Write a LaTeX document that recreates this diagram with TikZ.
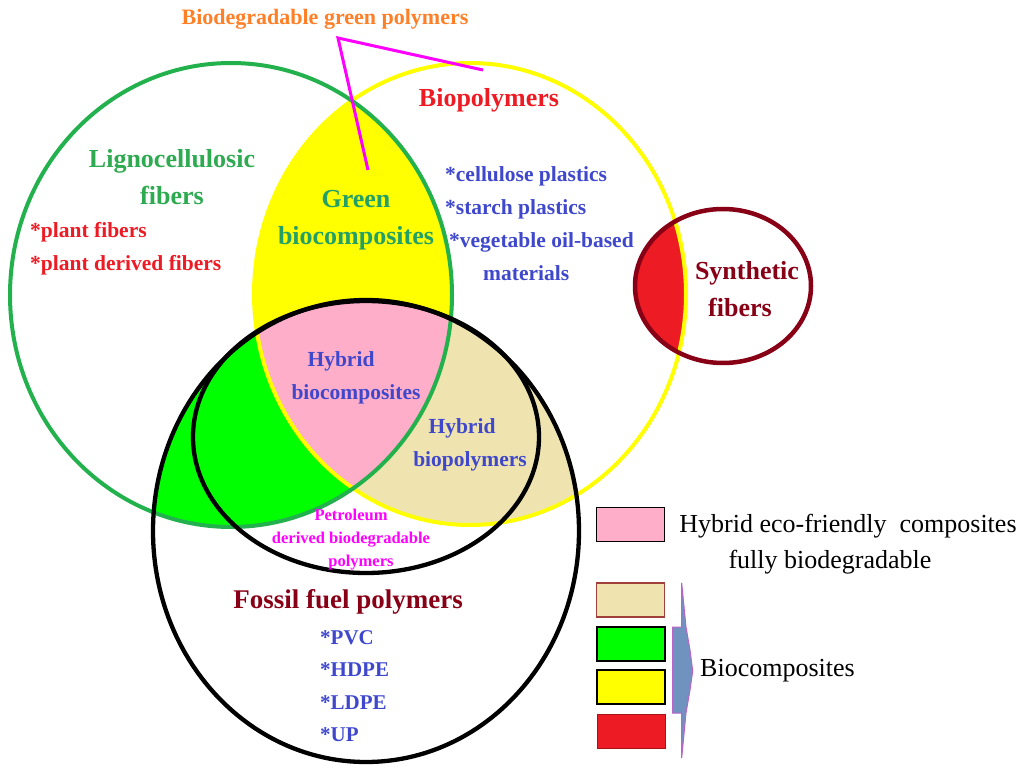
\documentclass[tikz,border=0pt]{standalone}
\usepackage{fontspec}
\setmainfont{Liberation Serif}
\definecolor{gline}{HTML}{22B14C}
\definecolor{gtext}{HTML}{2EAA50}
\definecolor{gbtext}{HTML}{22A066}
\definecolor{ylw}{HTML}{FFFF00}
\definecolor{rtext}{HTML}{ED1C24}
\definecolor{btext}{HTML}{3F48CC}
\definecolor{dred}{HTML}{880015}
\definecolor{orng}{HTML}{FF7F27}
\definecolor{mgnt}{HTML}{FF00FF}
\definecolor{pinkf}{HTML}{FFAEC9}
\definecolor{tanf}{HTML}{EFE4B0}
\definecolor{limef}{HTML}{00FF00}
\definecolor{redf}{HTML}{ED1C24}
\definecolor{arrf}{HTML}{7092BE}
\definecolor{arrd}{HTML}{B864C8}
\definecolor{tanb}{HTML}{A0403A}
\begin{document}
\begin{tikzpicture}[x=1pt,y=-1pt,
  big/.style={font=\bfseries\fontsize{26}{37}\selectfont, inner sep=0pt, align=center},
  mid/.style={font=\bfseries\fontsize{21.5}{33}\selectfont, inner sep=0pt},
  small/.style={font=\bfseries\fontsize{16.5}{23}\selectfont, inner sep=0pt, align=center},
  legtxt/.style={font=\fontsize{26}{36}\selectfont, inner sep=0pt},
  legbox/.style={draw=black, line width=1.5pt, minimum width=68pt, minimum height=34pt, inner sep=0pt},
  ring/.style={line width=4pt}]
\useasboundingbox (0,0) rectangle (1026,767);
\def\G{(231,295) ellipse [x radius=221pt, y radius=232pt]}
\def\Y{(470,294) ellipse [x radius=216pt, y radius=231pt]}
\def\B{(366,531) ellipse [x radius=213pt, y radius=231pt]}
\def\S{(366,437) ellipse [x radius=173pt, y radius=136pt]}
\def\F{(723,286) ellipse [x radius=88pt, y radius=77pt]}
% fills
\begin{scope}\clip \G; \fill[limef] \B;\end{scope}
\begin{scope}\clip \Y; \fill[tanf] \B;\end{scope}
\begin{scope}\clip \G; \clip \Y; \fill[ylw] \G; \clip \B; \fill[pinkf] \G;\end{scope}
\begin{scope}\clip \F; \fill[redf] \Y;\end{scope}
% outlines
\draw[ring, ylw] \Y;
\draw[ring, gline] \G;
\draw[line width=4.5pt, dred] \F;
\draw[line width=4.3pt, black] \B;
\draw[line width=4.3pt, black] \S;
% pointer lines
\coordinate (pv) at (338,38);
\coordinate (pa) at (483,70);
\coordinate (pb) at (368,170);
\draw[mgnt, line width=3pt] (pa) -- (pv) -- (pb);
% texts
\node[big, font=\bfseries\fontsize{22}{26}\selectfont, text=orng] (tbgp) at (325,19) {Biodegradable green polymers};
\node[big, text=rtext] (tbio) at (489,100) {Biopolymers};
\node[big, text=gtext] (tlig) at (172,177) {Lignocellulosic\\fibers};
\node[mid, text=rtext, align=left, anchor=west] (tpf) at (30,249) {*plant fibers\\*plant derived fibers};
\node[big, text=gbtext] (tgb) at (356,220) {Green\\biocomposites};
\node[mid, text=btext, align=left, anchor=west] (tbl) at (445,224) {*cellulose plastics\\*starch plastics\\\hspace*{4pt}*vegetable oil-based\\\hspace*{38pt}materials};
\node[big, text=dred] (tsyn) at (740,289) {\hspace*{14pt}Synthetic\\fibers};
\node[mid, text=btext, align=center] (thbc) at (341,378) {Hybrid\\\hspace*{30pt}biocomposites};
\node[mid, text=btext, align=center] (thbp) at (462,445) {Hybrid\\\hspace*{16pt}biopolymers};
\node[small, text=mgnt] (tpet) at (351,540) {Petroleum\\derived biodegradable\\\hspace*{20pt}polymers};
\node[big, font=\bfseries\fontsize{27}{32}\selectfont, text=dred] (tfos) at (348,602) {Fossil fuel polymers};
\node[mid, text=btext, align=left, anchor=west, font=\bfseries\fontsize{21}{32.3}\selectfont] (tfl) at (320,686) {*PVC\\*HDPE\\*LDPE\\*UP};
% legend
\node[legbox, fill=pinkf] (lpink) at (630.5,524.5) {};
\node[legbox, fill=tanf, draw=tanb] (ltan) at (630.5,600) {};
\node[legbox, fill=limef] (lgreen) at (631,644) {};
\node[legbox, fill=ylw] (lyel) at (631,687) {};
\node[legbox, fill=redf, draw=redf!70!black, line width=1pt] (lred) at (631,731.5) {};
\node[legtxt, align=center] (lt1) at (848,544) {Hybrid eco-friendly\ \ composites\\\hspace*{-36pt}fully biodegradable};
\draw[fill=arrf, draw=arrd, line width=1pt] (681.7,583) -- (686,627) -- (690,650) -- (692.7,671) -- (690,690) -- (686,713) -- (681.7,758) -- (681.7,713) -- (672.7,713) -- (672.7,627) -- (681.7,627) -- cycle;
\node[legtxt, anchor=west] (lt2) at (700,671) {Biocomposites};
\end{tikzpicture}
\end{document}
